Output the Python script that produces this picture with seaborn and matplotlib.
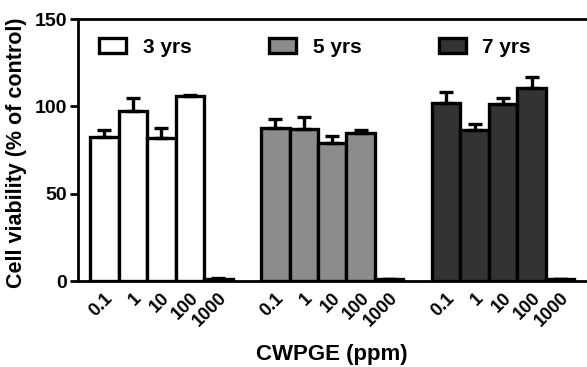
import numpy as np
import pandas as pd
import matplotlib
matplotlib.use("Agg")
import matplotlib.pyplot as plt
import seaborn as sns
from matplotlib.patches import Patch

concentrations = ["0.1", "1", "10", "100", "1000"]
groups = ["3 yrs", "5 yrs", "7 yrs"]
vals_3 = [82.4, 97.3, 81.7, 105.9, 1.5]
err_3 = [4.0, 7.3, 6.1, 0.6, 0.5]
vals_5 = [87.4, 87.0, 79.2, 84.9, 1.0]
err_5 = [5.2, 7.0, 3.8, 1.5, 0.3]
vals_7 = [101.7, 86.4, 101.3, 110.6, 1.0]
err_7 = [6.7, 3.5, 3.3, 6.0, 0.3]
colors = ["#ffffff", "#8c8c8c", "#333333"]

sns.set_theme(style="ticks")
plt.rcParams['font.family'] = ['Liberation Sans', 'DejaVu Sans']
plt.rcParams['font.weight'] = 'bold'
for k in ["text.color", "axes.labelcolor", "xtick.color", "ytick.color", "axes.edgecolor"]:
    plt.rcParams[k] = "black"

rows = []
for gi, (g, vs, es) in enumerate(zip(groups, [vals_3, vals_5, vals_7], [err_3, err_5, err_7])):
    for ci, (c, v, e) in enumerate(zip(concentrations, vs, es)):
        rows.append({"pos": gi * 6 + ci, "conc": c, "group": g, "val": v, "err": e})
df = pd.DataFrame(rows)

fig = plt.figure(figsize=(5.87, 3.67), dpi=100)
ax = fig.add_axes([0.133, 0.234, 0.867, 0.714])

sns.barplot(data=df, x="pos", y="val", hue="group", palette=colors,
            native_scale=True, dodge=False, width=1.0, errorbar=None,
            edgecolor="black", linewidth=2.4, legend=False, ax=ax)

ax.errorbar(df["pos"], df["val"], yerr=[np.zeros(len(df)), df["err"]],
            fmt="none", ecolor="black", elinewidth=2.4, capsize=5, capthick=2.4, zorder=1)

ax.set_ylim(0, 150)
ax.set_xlim(-0.92, 16.94)
ax.set_yticks([0, 50, 100, 150])
ax.set_xticks(df["pos"])
ax.set_xticklabels(df["conc"], rotation=45, ha="right", rotation_mode="anchor",
                   fontsize=13, fontweight="bold", color="black")
ax.tick_params(axis="x", length=0, pad=6, colors="black")
ax.tick_params(axis="y", length=6, width=2, labelsize=14, pad=2, colors="black")
for lab in ax.get_yticklabels():
    lab.set_fontweight("bold")

for s in ["left", "bottom", "top"]:
    ax.spines[s].set_linewidth(2)
    ax.spines[s].set_color("black")
ax.spines["right"].set_visible(False)

ax.set_ylabel("Cell viability (% of control)", fontsize=15.5, fontweight="bold", color="black")
ax.yaxis.set_label_coords(-0.1, 0.49)
ax.set_xlabel("CWPGE (ppm)", fontsize=16, fontweight="bold", color="black")
ax.xaxis.set_label_coords(0.499, -0.24)

handles = [Patch(facecolor=c, edgecolor="black", linewidth=2.4) for c in colors]
leg = ax.legend(handles, groups, ncol=3, frameon=False, loc="upper left",
                bbox_to_anchor=(0.005, 1.0), prop={"size": 15, "weight": "bold"},
                handlelength=1.3, handleheight=0.7, handletextpad=0.8,
                columnspacing=3.7)

fig.savefig("out.png", dpi=100)
